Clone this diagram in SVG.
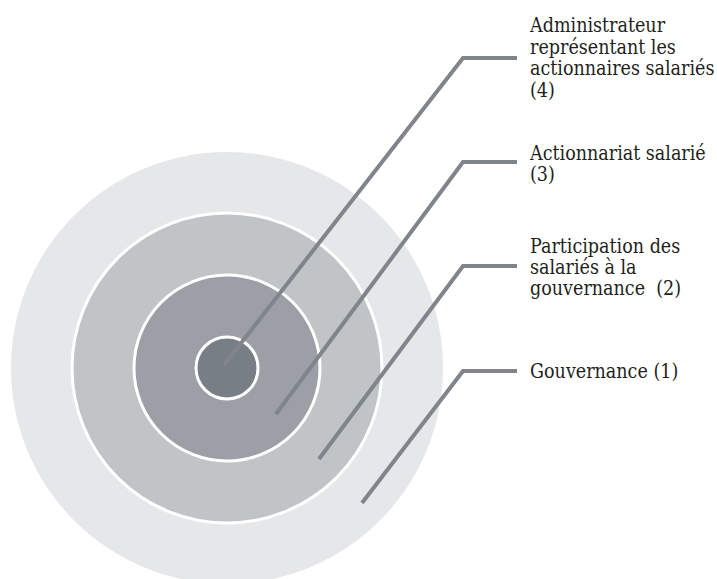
<svg xmlns="http://www.w3.org/2000/svg" width="717" height="579" viewBox="0 0 717 579">
<style>
.ring{stroke:#ffffff;stroke-width:3}
.conn{fill:none;stroke:#80858c;stroke-width:4;stroke-linejoin:miter}
.lbl{font-family:"DejaVu Serif Condensed","DejaVu Serif",serif;font-stretch:condensed;font-size:19.5px;fill:#231f20}
</style>
<rect width="717" height="579" fill="#ffffff"/>
<g id="node-1"><circle cx="227" cy="368" r="216" fill="#e6e7e8"/></g>
<g id="node-2"><circle class="ring" cx="227" cy="368" r="155" fill="#c1c4c7"/></g>
<g id="node-3"><circle class="ring" cx="227" cy="368" r="93" fill="#9c9fa6"/></g>
<g id="node-4"><circle class="ring" cx="227" cy="368" r="31" fill="#787e86"/></g>
<g id="connectors">
<polyline class="conn" points="224,365 463,58 517,58"/>
<polyline class="conn" points="276,414 463,162 517,162"/>
<polyline class="conn" points="319,459 463,266 517,266"/>
<polyline class="conn" points="362,503 463,371 517,371"/>
</g>
<g id="labels">
<text class="lbl" x="530" y="32">Administrateur</text>
<text class="lbl" x="530" y="54">représentant les</text>
<text class="lbl" x="530" y="75">actionnaires salariés</text>
<text class="lbl" x="530" y="97">(4)</text>
<text class="lbl" x="530" y="160">Actionnariat salarié</text>
<text class="lbl" x="530" y="181">(3)</text>
<text class="lbl" x="530" y="253">Participation des</text>
<text class="lbl" x="530" y="274">salariés à la</text>
<text class="lbl" x="530" y="295" xml:space="preserve">gouvernance  (2)</text>
<text class="lbl" x="530" y="378">Gouvernance (1)</text>
</g>
</svg>
